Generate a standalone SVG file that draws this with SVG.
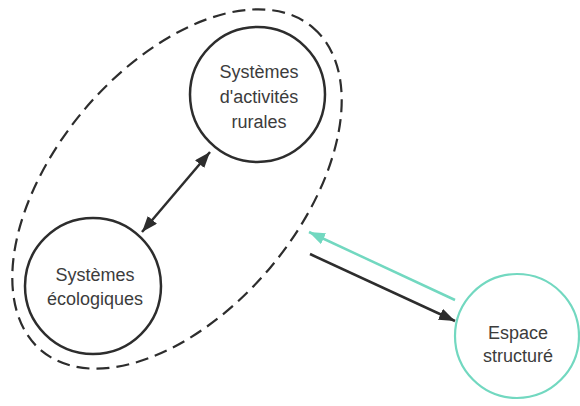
<svg xmlns="http://www.w3.org/2000/svg" width="580" height="406" viewBox="0 0 580 406">
  <defs>
    <style>
      .node { fill: none; stroke: #2d2d2d; stroke-width: 2.5; }
      .node-cyan { fill: none; stroke: #72d8c0; stroke-width: 2.2; }
      .lbl { font-family: "Liberation Sans", Arial, sans-serif; font-size: 18px; fill: #3c3c3c; text-anchor: middle; }
      .group { fill: none; stroke: #2d2d2d; stroke-width: 2.2; stroke-dasharray: 13 7; }
      .conn { fill: none; stroke: #2d2d2d; stroke-width: 2.5; }
      .conn-cyan { fill: none; stroke: #72d8c0; stroke-width: 2.5; }
    </style>
    <marker id="ah" markerUnits="userSpaceOnUse" markerWidth="18" markerHeight="14" refX="16" refY="6" orient="auto-start-reverse" viewBox="0 0 18 14">
      <path d="M0,0 L16,6 L0,12 z" fill="#2d2d2d"/>
    </marker>
    <marker id="ahc" markerUnits="userSpaceOnUse" markerWidth="18" markerHeight="14" refX="16" refY="6" orient="auto" viewBox="0 0 18 14">
      <path d="M0,0 L16,6 L0,12 z" fill="#72d8c0"/>
    </marker>
  </defs>
  <rect width="580" height="406" fill="#ffffff"/>

  <g id="group-ellipse">
    <ellipse class="group" cx="177" cy="189" rx="211" ry="122" transform="rotate(-50 177 189)"/>
  </g>

  <g id="node-activites">
    <circle class="node" cx="257.5" cy="94.5" r="67.5"/>
    <text class="lbl" x="259" y="78">Systèmes</text>
    <text class="lbl" x="259" y="103">d'activités</text>
    <text class="lbl" x="259" y="128">rurales</text>
  </g>

  <g id="node-ecologiques">
    <circle class="node" cx="93" cy="286" r="68"/>
    <text class="lbl" x="95" y="281">Systèmes</text>
    <text class="lbl" x="95" y="305">écologiques</text>
  </g>

  <g id="node-espace">
    <circle class="node-cyan" cx="517" cy="336" r="62"/>
    <text class="lbl" x="518" y="339">Espace</text>
    <text class="lbl" x="518" y="362">structuré</text>
  </g>

  <g id="connectors">
    <line class="conn" x1="142" y1="232" x2="210" y2="152" marker-start="url(#ah)" marker-end="url(#ah)"/>
    <line class="conn-cyan" x1="455" y1="300" x2="309" y2="232" marker-end="url(#ahc)"/>
    <line class="conn" x1="310" y1="254" x2="455" y2="321" marker-end="url(#ah)"/>
  </g>
</svg>
